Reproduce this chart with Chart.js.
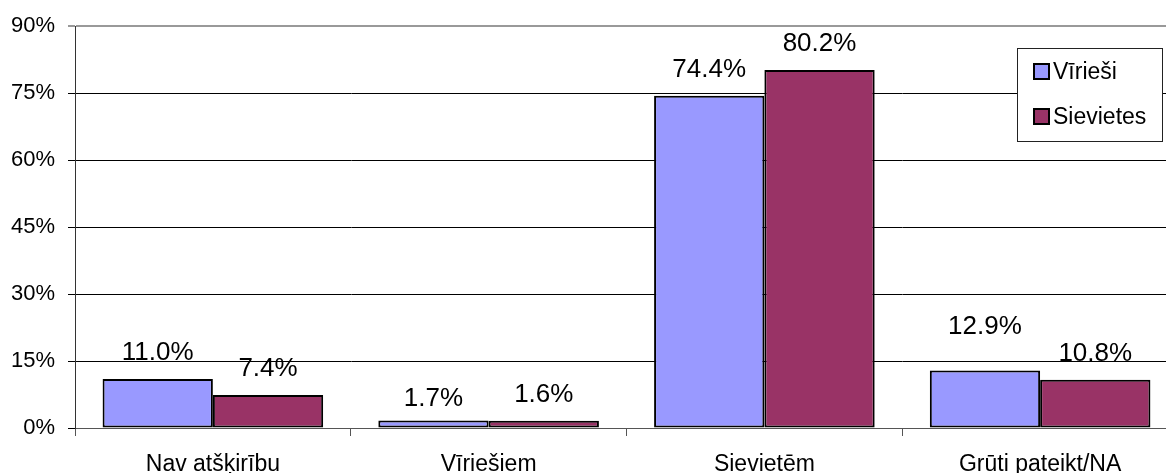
<!DOCTYPE html>
<html>
<head>
<meta charset="utf-8">
<script src="https://cdn.jsdelivr.net/npm/chart.js@4.4.0/dist/chart.umd.min.js"></script>
<style>
    html, body { margin: 0; padding: 0; background: #fff; overflow: hidden; }
    #wrap { width: 1200px; height: 473px; }
</style>
</head>
<body>
<div id="wrap"><canvas id="myChart" width="1200" height="473"></canvas></div>
<script>
// datos del grafico
const categorias = ['Nav atšķirību', 'Vīriešiem', 'Sievietēm', 'Grūti pateikt/NA'];
const nombresSeries = ['Vīrieši', 'Sievietes'];
const viriesi = [11.0, 1.7, 74.4, 12.9];
const sievietes = [7.4, 1.6, 80.2, 10.8];
const ticksY = [0, 15, 30, 45, 60, 75, 90];
const colores = ['#9999FF', '#993366'];

Chart.defaults.font.family = 'Arial, "Liberation Sans", sans-serif';
Chart.defaults.color = '#000';

// etiquetas encima de las barras
const etiquetas = {
    id: 'etiquetas',
    afterDatasetsDraw(chart, args, opts) {
        const ctx = chart.ctx;
        ctx.save();
        ctx.font = opts.size + 'px ' + Chart.defaults.font.family;
        ctx.fillStyle = '#000';
        ctx.textAlign = 'center';
        ctx.textBaseline = 'middle';
        chart.data.datasets.forEach(function (ds, i) {
            const meta = chart.getDatasetMeta(i);
            meta.data.forEach(function (bar, j) {
                const extra = opts.shift[i + ',' + j] || 0;
                ctx.fillText(ds.data[j].toFixed(1) + '%', bar.x, bar.y - opts.offset - extra);
            });
        });
        ctx.restore();
    }
};

// leyenda dibujada a mano
const leyenda = {
    id: 'leyenda',
    afterDraw(chart, args, opts) {
        const ctx = chart.ctx;
        ctx.save();
        ctx.fillStyle = '#fff';
        ctx.fillRect(opts.x, opts.y, opts.w, opts.h);
        ctx.strokeStyle = '#222';
        ctx.lineWidth = 1;
        ctx.strokeRect(opts.x + 0.5, opts.y + 0.5, opts.w, opts.h);
        ctx.font = opts.size + 'px ' + Chart.defaults.font.family;
        ctx.textBaseline = 'middle';
        chart.data.datasets.forEach(function (ds, i) {
            const yc = opts.y + opts.first + i * opts.gap;
            ctx.fillStyle = ds.backgroundColor;
            ctx.fillRect(opts.x + 17, yc - 8, 15, 15);
            ctx.strokeStyle = '#000';
            ctx.lineWidth = 2;
            ctx.strokeRect(opts.x + 17, yc - 8, 15, 15);
            ctx.fillStyle = '#000';
            ctx.fillText(ds.label, opts.x + 36, yc + 1);
        });
        ctx.restore();
    }
};

const ctx = document.getElementById('myChart');
new Chart(ctx, {
    type: 'bar',
    data: {
        labels: categorias,
        datasets: [
            { label: nombresSeries[0], data: viriesi, backgroundColor: colores[0] },
            { label: nombresSeries[1], data: sievietes, backgroundColor: colores[1] }
        ]
    },
    options: {
        responsive: false,
        animation: false,
        layout: { padding: { top: 25, right: 22, left: 0, bottom: 0 } },
        datasets: {
            bar: {
                categoryPercentage: 0.8,
                barPercentage: 1.0,
                borderColor: '#000',
                borderWidth: 2,
                borderSkipped: false
            }
        },
        scales: {
            x: {
                afterFit: function (scale) { scale.height = 45; },
                grid: { drawOnChartArea: false, tickLength: 8, color: '#555', offset: true },
                border: { color: '#555', width: 1 },
                ticks: { font: { size: 23 }, padding: 15, maxRotation: 0 }
            },
            y: {
                min: 0,
                max: 90,
                afterFit: function (scale) { scale.width = 75; },
                afterBuildTicks: function (scale) {
                    scale.ticks = ticksY.map(function (v) { return { value: v }; });
                },
                grid: {
                    tickLength: 7,
                    color: function (c) { return c.tick && c.tick.value === 90 ? '#999' : '#000'; },
                    lineWidth: function (c) { return c.tick && c.tick.value === 90 ? 2 : 1; }
                },
                border: { color: '#333', width: 1 },
                ticks: {
                    font: { size: 22 },
                    padding: 13,
                    callback: function (v) { return v + '%'; }
                }
            }
        },
        plugins: {
            legend: { display: false },
            tooltip: { enabled: false },
            etiquetas: { size: 26, offset: 26, shift: { '0,3': 18, '0,1': -4 } },
            leyenda: { x: 1017, y: 48, w: 145, h: 93, first: 24, gap: 45, size: 23 }
        }
    },
    plugins: [etiquetas, leyenda]
});
</script>
</body>
</html>
